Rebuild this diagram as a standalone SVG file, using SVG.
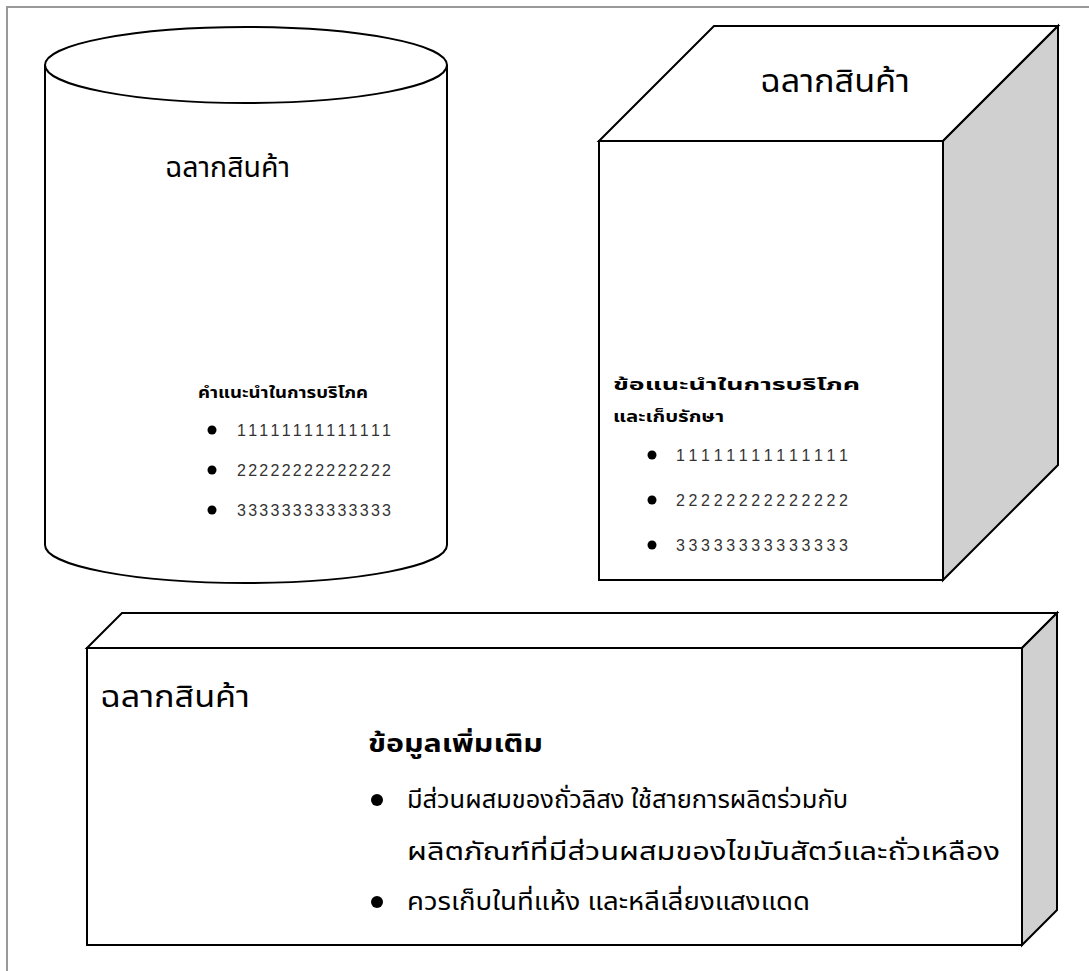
<svg xmlns="http://www.w3.org/2000/svg" width="1089" height="971" viewBox="0 0 1089 971">
<style>
.ln{stroke:#000;stroke-width:2;fill:#fff;stroke-linejoin:miter}
.sd{stroke:#000;stroke-width:2;fill:#d0d0d0}
.th{font-family:"Noto Sans Thai","Loma","Garuda","Noto Sans","DejaVu Sans",sans-serif;fill:#000}
.b{font-weight:bold}
.dg{font-family:"Liberation Sans",Arial,sans-serif;font-size:16px;fill:#333;letter-spacing:2px}
.frame{stroke:#999;stroke-width:2;fill:none}
</style>
<rect width="1089" height="971" fill="#fff"/>
<path class="frame" d="M7,971 V7 H1089"/>
<g id="connectors"></g>
<g id="cylinder">
<path class="ln" d="M45,65 V545 A201,38 0 0 0 447,545 V65"/>
<ellipse class="ln" cx="246" cy="65" rx="201" ry="38"/>
<text class="th" x="165" y="177" font-size="28" textLength="125" lengthAdjust="spacingAndGlyphs">ฉลากสินค้า</text>
<text class="th b" x="198" y="398" font-size="15" textLength="170" lengthAdjust="spacingAndGlyphs">คำแนะนำในการบริโภค</text>
<circle cx="212" cy="430" r="4.5"/>
<circle cx="212" cy="470" r="4.5"/>
<circle cx="212" cy="510" r="4.5"/>
<text class="dg" x="237" y="436" textLength="156">11111111111111</text>
<text class="dg" x="237" y="476" textLength="156">22222222222222</text>
<text class="dg" x="237" y="516" textLength="156">33333333333333</text>
</g>
<g id="cube">
<polygon class="ln" points="599,141 714,26 1058,26 943,141"/>
<polygon class="sd" points="943,141 1058,26 1058,465 943,580"/>
<rect class="ln" x="599" y="141" width="344" height="439"/>
<text class="th" x="760" y="92" font-size="32" textLength="150" lengthAdjust="spacingAndGlyphs">ฉลากสินค้า</text>
<text class="th b" x="613" y="390" font-size="16" textLength="247" lengthAdjust="spacingAndGlyphs">ข้อแนะนำในการบริโภค</text>
<text class="th b" x="613" y="422" font-size="16" textLength="111" lengthAdjust="spacingAndGlyphs">และเก็บรักษา</text>
<circle cx="652" cy="455" r="4.5"/>
<circle cx="652" cy="500" r="4.5"/>
<circle cx="652" cy="545" r="4.5"/>
<text class="dg" x="676" y="461" textLength="174">11111111111111</text>
<text class="dg" x="676" y="506" textLength="174">22222222222222</text>
<text class="dg" x="676" y="551" textLength="174">33333333333333</text>
</g>
<g id="box">
<polygon class="ln" points="87,648 122,613 1057,613 1022,648"/>
<polygon class="sd" points="1022,648 1057,613 1057,910 1022,945"/>
<rect class="ln" x="87" y="648" width="935" height="297"/>
<text class="th" x="100" y="707" font-size="30" textLength="150" lengthAdjust="spacingAndGlyphs">ฉลากสินค้า</text>
<text class="th b" x="368" y="752" font-size="24" textLength="175" lengthAdjust="spacingAndGlyphs">ข้อมูลเพิ่มเติม</text>
<circle cx="377" cy="800" r="6"/>
<text class="th" x="407" y="808" font-size="24" textLength="441" lengthAdjust="spacingAndGlyphs">มีส่วนผสมของถั่วลิสง ใช้สายการผลิตร่วมกับ</text>
<text class="th" x="407" y="860" font-size="24" textLength="593" lengthAdjust="spacingAndGlyphs">ผลิตภัณฑ์ที่มีส่วนผสมของไขมันสัตว์และถั่วเหลือง</text>
<circle cx="377" cy="902" r="6"/>
<text class="th" x="407" y="910" font-size="24" textLength="403" lengthAdjust="spacingAndGlyphs">ควรเก็บในที่แห้ง และหลีเลี่ยงแสงแดด</text>
</g>
</svg>
